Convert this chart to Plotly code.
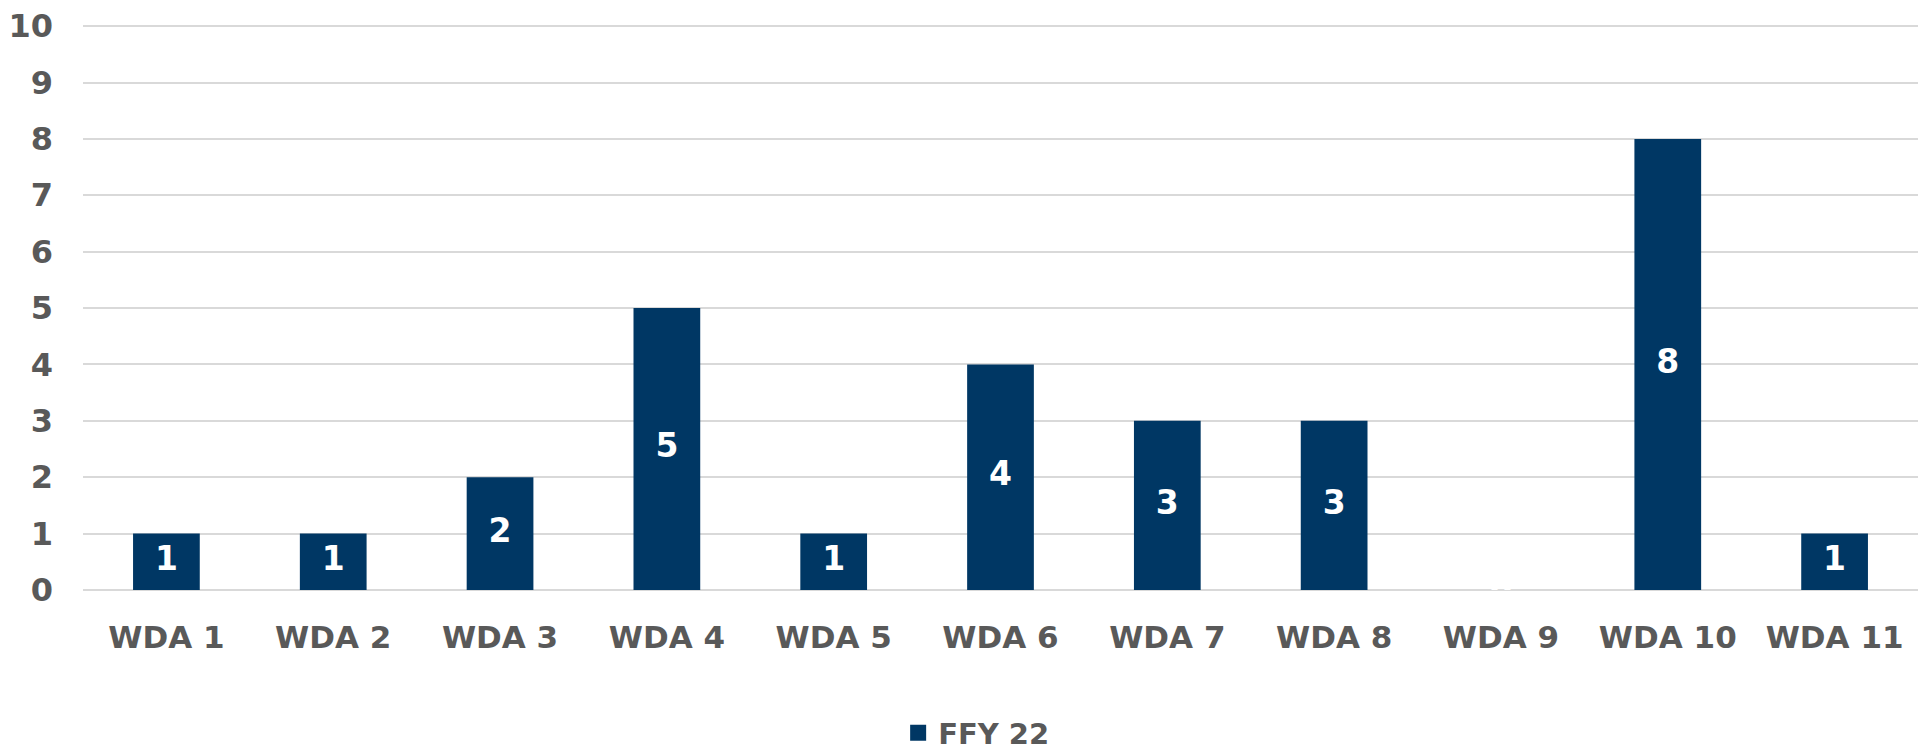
import plotly.graph_objects as go

categories = ["WDA 1", "WDA 2", "WDA 3", "WDA 4", "WDA 5", "WDA 6", "WDA 7", "WDA 8", "WDA 9", "WDA 10", "WDA 11"]
values = [1, 1, 2, 5, 1, 4, 3, 3, 0, 8, 1]
series_name = "FFY 22"
y_ticks = list(range(0, 11))

BAR = "#003764"
GRAY = "#595959"
FONT = "DejaVu Sans"

fig = go.Figure()
fig.add_trace(go.Bar(
    x=categories, y=values, name=series_name,
    marker=dict(color=BAR, line=dict(width=0)),
    showlegend=False,
))
fig.add_trace(go.Scatter(
    x=categories, y=[v / 2 for v in values], mode="text",
    text=[str(v) for v in values],
    textfont=dict(family=FONT, size=33, color="white", weight="bold"),
    showlegend=False, hoverinfo="skip",
))
# legend entry with a larger square swatch
fig.add_trace(go.Scatter(
    x=[categories[0]], y=[None], mode="markers", name=series_name,
    marker=dict(symbol="square", size=20, color=BAR),
    showlegend=True, hoverinfo="skip",
))

fig.update_layout(
    width=1910, height=742,
    margin=dict(l=75, r=0, t=17, b=160, autoexpand=False),
    paper_bgcolor="white", plot_bgcolor="white",
    bargap=0.6,
    font=dict(family=FONT, color=GRAY, size=31, weight="bold"),
    legend=dict(orientation="h", x=0.487, xanchor="center", y=-0.253, yanchor="middle",
                font=dict(family=FONT, size=29, color=GRAY, weight="bold"), itemwidth=30),
    xaxis=dict(range=[-0.5, len(categories) - 0.5], showgrid=False, showline=False, ticks="", automargin=False,
               tickfont=dict(size=31, color=GRAY, weight="bold"), ticklabelstandoff=26),
    yaxis=dict(range=[0, 10.02], tickvals=y_ticks, showgrid=True, gridcolor="#d9d9d9", gridwidth=1.5,
               zeroline=True, zerolinecolor="#d9d9d9", zerolinewidth=1.5, showline=False, automargin=False,
               ticklabeloverflow="allow",
               tickfont=dict(size=32, color=GRAY, weight="bold"), ticklabelstandoff=29),
)

fig.write_html("out.html")
